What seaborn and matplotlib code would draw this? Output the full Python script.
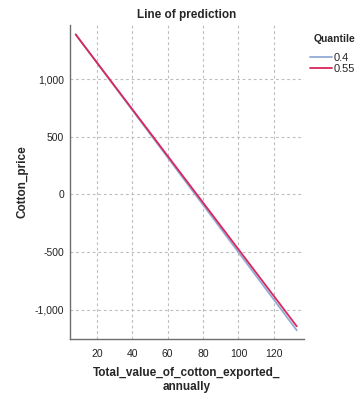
import matplotlib
matplotlib.use("Agg")
import matplotlib.pyplot as plt
import seaborn as sns
import pandas as pd
from matplotlib.ticker import FuncFormatter

# Fitted quantile-regression lines (endpoints of the predictor range)
export_value = [8, 133]
pred_q040 = [1390, -1180]
pred_q055 = [1388, -1145]
quantile_labels = ["0.4", "0.55"]
line_colors = ["#93aad6", "#d9265c"]

df = pd.DataFrame({
    "Total_value_of_cotton_exported_annually": export_value * 2,
    "Cotton_price": pred_q040 + pred_q055,
    "Quantile": [quantile_labels[0]] * 2 + [quantile_labels[1]] * 2,
})

sns.set_style("white")
plt.rcParams["font.family"] = ["Liberation Sans", "DejaVu Sans"]

fig = plt.figure(figsize=(3.6, 3.98), dpi=100)
ax = fig.add_axes([0.194, 0.148, 0.650, 0.789])

sns.lineplot(data=df, x="Total_value_of_cotton_exported_annually", y="Cotton_price",
             hue="Quantile", palette=line_colors, linewidth=1.3, ax=ax, legend=True)

ax.set_xlim(4.7, 137)
ax.set_ylim(-1256, 1470)
ax.set_xticks([20, 40, 60, 80, 100, 120])
ax.set_yticks([-1000, -500, 0, 500, 1000])
ax.yaxis.set_major_formatter(FuncFormatter(lambda v, p: f"{int(v):,}"))

ax.grid(True, color="#bdbdbd", linestyle=(0, (2.5, 2.5)), linewidth=0.8)
for s in ["top", "right"]:
    ax.spines[s].set_visible(False)
for s in ["left", "bottom"]:
    ax.spines[s].set_color("#6e6e6e")
    ax.spines[s].set_linewidth(1.0)

ax.tick_params(axis="both", labelsize=7.5, length=0, colors="#222222")
ax.tick_params(axis="y", pad=4)
ax.tick_params(axis="x", pad=7)

ax.set_title("Line of prediction", fontsize=8.5, fontweight="bold", pad=5)
ax.set_xlabel("Total_value_of_cotton_exported_\nannually", fontsize=8.5,
              fontweight="bold", labelpad=6, linespacing=1.15)
ax.set_ylabel("Cotton_price", fontsize=8.5, fontweight="bold")
ax.yaxis.set_label_coords(-0.176, 0.5)

leg = ax.legend(title="Quantile", loc="upper left", bbox_to_anchor=(1.027, 0.97),
                frameon=False, fontsize=8, title_fontsize=7.5,
                handlelength=2.0, handletextpad=0.15, labelspacing=0.08,
                borderaxespad=0, borderpad=0)
leg.get_title().set_fontweight("bold")
leg._legend_box.align = "right"
leg._legend_box.sep = 6

fig.savefig("out.png", dpi=100)
